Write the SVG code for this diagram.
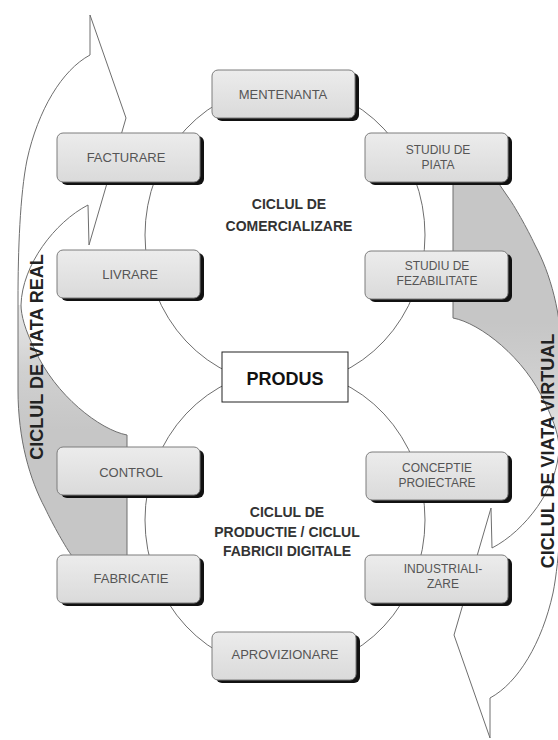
<svg xmlns="http://www.w3.org/2000/svg" width="558" height="740" viewBox="0 0 558 740">
  <defs>
    <style>
      .shadow{fill:#111}
      .box{fill:url(#boxfill);stroke:#7c7c7c;stroke-width:1}
      .lbl{font-family:"Liberation Sans",Arial,sans-serif;font-size:13px;fill:#555;text-anchor:middle}
      .lbl2{font-size:12px}
      .title{font-family:"Liberation Sans",Arial,sans-serif;font-weight:bold;font-size:14px;fill:#333;text-anchor:middle}
      .side{font-family:"Liberation Sans",Arial,sans-serif;font-weight:bold;font-size:18px;fill:#222;text-anchor:middle}
      .ring{fill:none;stroke:#6e6e6e;stroke-width:1}
      .edge{fill:none;stroke:#6e6e6e;stroke-width:1}
    </style>
    <linearGradient id="boxfill" x1="0" y1="0" x2="0" y2="1">
      <stop offset="0" stop-color="#ececec"/>
      <stop offset="1" stop-color="#dadada"/>
    </linearGradient>
    <linearGradient id="under" gradientUnits="userSpaceOnUse" x1="0" y1="300" x2="0" y2="430">
      <stop offset="0" stop-color="#ebebeb"/>
      <stop offset="0.55" stop-color="#d0d0d0"/>
      <stop offset="1" stop-color="#c6c6c6"/>
    </linearGradient>
    <!-- curved block arrow: twisted band with its head -->
    <path id="band" d="M127,575 L127,435 C100,430 55,395 35,350 C25,330 21,315 21,305 C22,265 55,222 88,205 L89,245 L126,118 L90,15 L90,55 C62,70 38,110 27,160 C20,195 18,250 18,300 L18,390 C18,440 30,480 45,508 C53,525 66,548 72,556 L85,575 Z"/>
    <!-- shaded back side of the band, below the twist -->
    <path id="underside" d="M127,575 L127,435 C100,430 55,395 35,350 C25,330 21,315 21,305 L18,305 L18,390 C18,440 30,480 45,508 C53,525 66,548 72,556 L85,575 Z"/>
    <g id="cycleArrow">
      <use href="#band" fill="#ffffff"/>
      <use href="#underside" fill="url(#under)"/>
      <use href="#band" class="edge"/>
    </g>
  </defs>

  <rect width="558" height="740" fill="#ffffff"/>

  <!-- big curved arrows -->
  <g id="arrow-real">
    <use href="#cycleArrow"/>
  </g>
  <g id="arrow-virtual">
    <use href="#cycleArrow" transform="rotate(180 290 376.5)"/>
  </g>

  <!-- the two cycles joining the nodes -->
  <g id="connectors">
    <ellipse class="ring" cx="285" cy="235" rx="140" ry="150"/>
    <ellipse class="ring" cx="285" cy="520" rx="140" ry="150"/>
  </g>

  <g id="title-comercializare">
    <text class="title" x="289" y="209">CICLUL DE</text>
    <text class="title" x="289" y="231">COMERCIALIZARE</text>
  </g>
  <g id="title-productie">
    <text class="title" x="287" y="517">CICLUL DE</text>
    <text class="title" x="287" y="537">PRODUCTIE / CICLUL</text>
    <text class="title" x="287" y="556">FABRICII DIGITALE</text>
  </g>

  <g id="node-mentenanta">
    <rect class="shadow" x="216" y="73" width="143" height="48" rx="6"/>
    <rect class="box" x="212" y="70" width="143" height="48" rx="6"/>
    <text class="lbl" x="283" y="99">MENTENANTA</text>
  </g>
  <g id="node-facturare">
    <rect class="shadow" x="61" y="136" width="143" height="49" rx="6"/>
    <rect class="box" x="57" y="133" width="143" height="49" rx="6"/>
    <text class="lbl" x="126" y="162">FACTURARE</text>
  </g>
  <g id="node-studiu-piata">
    <rect class="shadow" x="369" y="136" width="143" height="49" rx="6"/>
    <rect class="box" x="365" y="133" width="143" height="49" rx="6"/>
    <text class="lbl lbl2" x="438" y="154">STUDIU DE</text>
    <text class="lbl lbl2" x="438" y="169">PIATA</text>
  </g>
  <g id="node-livrare">
    <rect class="shadow" x="61" y="253" width="143" height="48" rx="6"/>
    <rect class="box" x="57" y="250" width="143" height="48" rx="6"/>
    <text class="lbl" x="130" y="279">LIVRARE</text>
  </g>
  <g id="node-studiu-fezabilitate">
    <rect class="shadow" x="369" y="254" width="143" height="48" rx="6"/>
    <rect class="box" x="365" y="251" width="143" height="48" rx="6"/>
    <text class="lbl lbl2" x="437" y="270">STUDIU DE</text>
    <text class="lbl lbl2" x="437" y="285">FEZABILITATE</text>
  </g>
  <g id="node-produs">
    <rect x="222" y="352" width="126" height="50" fill="#ffffff" stroke="#222" stroke-width="1"/>
    <text x="285" y="385" font-family="Liberation Sans, Arial, sans-serif" font-weight="bold" font-size="18" fill="#111" text-anchor="middle">PRODUS</text>
  </g>
  <g id="node-control">
    <rect class="shadow" x="61" y="450" width="143" height="48" rx="6"/>
    <rect class="box" x="57" y="447" width="143" height="48" rx="6"/>
    <text class="lbl" x="131" y="477">CONTROL</text>
  </g>
  <g id="node-conceptie">
    <rect class="shadow" x="370" y="455" width="142" height="48" rx="6"/>
    <rect class="box" x="366" y="452" width="142" height="48" rx="6"/>
    <text class="lbl lbl2" x="437" y="472">CONCEPTIE</text>
    <text class="lbl lbl2" x="437" y="487">PROIECTARE</text>
  </g>
  <g id="node-fabricatie">
    <rect class="shadow" x="61" y="558" width="143" height="48" rx="6"/>
    <rect class="box" x="57" y="555" width="143" height="48" rx="6"/>
    <text class="lbl" x="131" y="583">FABRICATIE</text>
  </g>
  <g id="node-industrializare">
    <rect class="shadow" x="369" y="558" width="143" height="48" rx="6"/>
    <rect class="box" x="365" y="555" width="143" height="48" rx="6"/>
    <text class="lbl lbl2" x="443" y="573">INDUSTRIALI-</text>
    <text class="lbl lbl2" x="443" y="588">ZARE</text>
  </g>
  <g id="node-aprovizionare">
    <rect class="shadow" x="216" y="635" width="144" height="48" rx="6"/>
    <rect class="box" x="212" y="632" width="144" height="48" rx="6"/>
    <text class="lbl" x="285" y="659">APROVIZIONARE</text>
  </g>

  <!-- labels of the two life cycles -->
  <text class="side" transform="translate(43 357) rotate(-90)">CICLUL DE VIATA REAL</text>
  <text class="side" transform="translate(554 451) rotate(-90)">CICLUL DE VIATA VIRTUAL</text>
</svg>
